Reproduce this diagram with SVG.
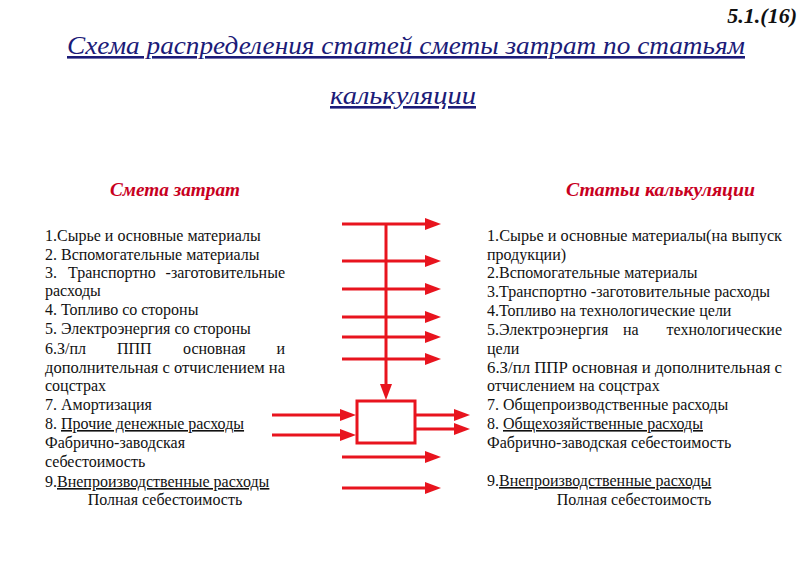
<svg xmlns="http://www.w3.org/2000/svg" width="810" height="572" viewBox="0 0 810 572">
<style>
text{font-family:"Liberation Serif","Times New Roman",serif}
.t{font-size:16px;fill:#111}
.u{text-decoration:underline}
.h{font-size:19px;font-weight:bold;font-style:italic;fill:#c8001e}
.ttl{font-size:26px;font-style:italic;fill:#1b1b78;text-decoration:underline}
.num{font-size:22px;font-style:italic;font-weight:bold;fill:#111}
.ln{stroke:#e8141e;stroke-width:3;fill:none}
.ar{marker-end:url(#ah)}
</style>
<defs>
<marker id="ah" markerUnits="userSpaceOnUse" markerWidth="16" markerHeight="12" refX="10" refY="6" orient="auto">
<path d="M0,0 L16,6 L0,12 z" fill="#e8141e"/>
</marker>
</defs>
<rect width="810" height="572" fill="#fff"/>
<g id="header">
<text class="num" x="797" y="23" text-anchor="end">5.1.(16)</text>
<text class="ttl" x="67" y="54" textLength="678" lengthAdjust="spacingAndGlyphs">Схема распределения статей сметы затрат по статьям</text>
<text class="ttl" x="330" y="104" textLength="146" lengthAdjust="spacingAndGlyphs">калькуляции</text>
</g>
<g id="left-list">
<text class="h" x="110" y="196" textLength="130" lengthAdjust="spacingAndGlyphs">Смета затрат</text>
<text class="t" x="45" y="241">1.Сырье и основные материалы</text>
<text class="t" x="45" y="260">2. Вспомогательные материалы</text>
<text class="t" y="278"><tspan x="45">3.</tspan><tspan x="68">Транспортно</tspan><tspan x="285" text-anchor="end">-заготовительные</tspan></text>
<text class="t" x="45" y="296">расходы</text>
<text class="t" x="45" y="315">4. Топливо со стороны</text>
<text class="t" x="45" y="334">5. Электроэнергия со стороны</text>
<text class="t" y="354"><tspan x="45">6.З/пл</tspan><tspan x="117">ППП</tspan><tspan x="183">основная</tspan><tspan x="285" text-anchor="end">и</tspan></text>
<text class="t" x="45" y="373" textLength="240" lengthAdjust="spacingAndGlyphs">дополнительная с отчислением на</text>
<text class="t" x="45" y="391">соцстрах</text>
<text class="t" x="45" y="410">7. Амортизация</text>
<text class="t" x="45" y="429">8. <tspan class="u">Прочие денежные расходы</tspan></text>
<text class="t" x="45" y="448">Фабрично-заводская</text>
<text class="t" x="45" y="467">себестоимость</text>
<text class="t" x="45" y="487">9.<tspan class="u">Внепроизводственные расходы</tspan></text>
<text class="t" x="165" y="505" text-anchor="middle">Полная себестоимость</text>
</g>
<g id="right-list">
<text class="h" x="566" y="196" textLength="189" lengthAdjust="spacingAndGlyphs">Статьи калькуляции</text>
<text class="t" x="487" y="241" textLength="295" lengthAdjust="spacingAndGlyphs">1.Сырье и основные материалы(на выпуск</text>
<text class="t" x="487" y="260">продукции)</text>
<text class="t" x="487" y="278">2.Вспомогательные материалы</text>
<text class="t" x="487" y="297">3.Транспортно -заготовительные расходы</text>
<text class="t" x="487" y="316">4.Топливо на технологические цели</text>
<text class="t" y="335"><tspan x="487">5.Электроэнергия</tspan><tspan x="623">на</tspan><tspan x="782" text-anchor="end">технологические</tspan></text>
<text class="t" x="487" y="354">цели</text>
<text class="t" x="487" y="373" textLength="295" lengthAdjust="spacingAndGlyphs">6.З/пл ППР основная и дополнительная с</text>
<text class="t" x="487" y="391">отчислением на соцстрах</text>
<text class="t" x="487" y="410">7. Общепроизводственные расходы</text>
<text class="t" x="487" y="429">8. <tspan class="u">Общехозяйственные расходы</tspan></text>
<text class="t" x="487" y="448">Фабрично-заводская себестоимость</text>
<text class="t" x="487" y="486">9.<tspan class="u">Внепроизводственные расходы</tspan></text>
<text class="t" x="634" y="505" text-anchor="middle">Полная себестоимость</text>
</g>
<g id="connectors">
<line class="ln ar" x1="342" y1="224" x2="435" y2="224"/>
<line class="ln ar" x1="342" y1="261" x2="435" y2="261"/>
<line class="ln ar" x1="342" y1="289" x2="435" y2="289"/>
<line class="ln ar" x1="342" y1="317" x2="435" y2="317"/>
<line class="ln ar" x1="342" y1="337" x2="435" y2="337"/>
<line class="ln ar" x1="342" y1="359" x2="435" y2="359"/>
<line class="ln ar" x1="386" y1="224" x2="386" y2="394"/>
<line class="ln ar" x1="272" y1="415" x2="350" y2="415"/>
<line class="ln ar" x1="272" y1="435" x2="350" y2="435"/>
<line class="ln ar" x1="415" y1="415" x2="464" y2="415"/>
<line class="ln ar" x1="415" y1="429" x2="464" y2="429"/>
<line class="ln ar" x1="342" y1="457" x2="435" y2="457"/>
<line class="ln ar" x1="342" y1="488" x2="435" y2="488"/>
</g>
<g id="box">
<rect x="357" y="401" width="58" height="42" fill="#fff" stroke="#e8141e" stroke-width="3"/>
</g>
</svg>
